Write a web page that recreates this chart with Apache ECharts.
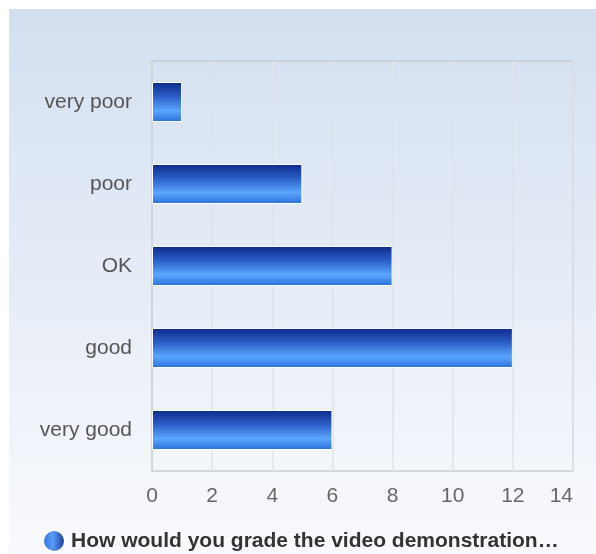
<!DOCTYPE html>
<html>
<head>
<meta charset="utf-8">
<script src="https://cdn.jsdelivr.net/npm/echarts@6/dist/echarts.min.js"></script>
<style>
  html, body { margin: 0; padding: 0; background: #fff; }
  #chart { width: 596px; height: 554px; }
</style>
</head>
<body>
<div id="chart"></div>
<script>
const categories = ['very good', 'good', 'OK', 'poor', 'very poor']
const counts = [6, 12, 8, 5, 1]
const seriesName = 'How would you grade the video demonstration…'

const chart = echarts.init(document.getElementById('chart'))

const barGradient = new echarts.graphic.LinearGradient(0, 0, 0, 1, [
  { offset: 0, color: '#0c2b8a' },
  { offset: 0.35, color: '#2a5cc4' },
  { offset: 0.72, color: '#5aa6ff' },
  { offset: 1, color: '#2c6fd6' }
])

chart.setOption({
  animation: false,
  backgroundColor: '#fff',
  graphic: [{
    type: 'rect',
    left: 9,
    top: 9,
    z: -10,
    shape: { width: 587, height: 545 },
    style: {
      fill: new echarts.graphic.LinearGradient(0, 0, 0, 1, [
        { offset: 0, color: '#d3dff0' },
        { offset: 1, color: '#f9fafd' }
      ])
    }
  }],
  grid: {
    left: 152,
    right: 23,
    top: 61,
    bottom: 83,
    show: true,
    borderColor: '#c9ccd2',
    borderWidth: 1.5,
    backgroundColor: 'transparent'
  },
  legend: {
    left: 42,
    top: 529,
    padding: 0,
    itemWidth: 24,
    itemHeight: 22,
    icon: 'circle',
    itemGap: 6,
    data: [{
      name: seriesName,
      itemStyle: {
        color: new echarts.graphic.LinearGradient(0, 0, 1, 0, [
          { offset: 0, color: '#2e6fe0' },
          { offset: 0.45, color: '#5a9cf5' },
          { offset: 1, color: '#0d2f8f' }
        ])
      }
    }],
    textStyle: {
      fontFamily: 'Liberation Sans, Arial, sans-serif',
      fontSize: 21,
      fontWeight: 'bold',
      color: '#333'
    }
  },
  xAxis: {
    type: 'value',
    min: 0,
    max: 14,
    interval: 2,
    axisLine: { show: false },
    axisTick: { show: false },
    splitLine: { show: true, lineStyle: { color: '#dfe2e8', width: 1.5 } },
    axisLabel: {
      margin: 15,
      alignMaxLabel: 'right',
      fontFamily: 'Liberation Sans, Arial, sans-serif',
      fontSize: 21,
      color: '#666'
    }
  },
  yAxis: {
    type: 'category',
    data: categories,
    axisLine: { show: true, lineStyle: { color: '#cdd2da', width: 1.5 } },
    axisTick: { show: false },
    axisLabel: {
      margin: 20,
      fontFamily: 'Liberation Sans, Arial, sans-serif',
      fontSize: 21,
      color: '#555',
      padding: [4, 0, 0, 0]
    }
  },
  series: [{
    name: seriesName,
    type: 'bar',
    data: counts,
    barWidth: 40,
    itemStyle: {
      color: barGradient,
      borderColor: '#ffffff',
      borderWidth: 1
    }
  }]
})
</script>
</body>
</html>
